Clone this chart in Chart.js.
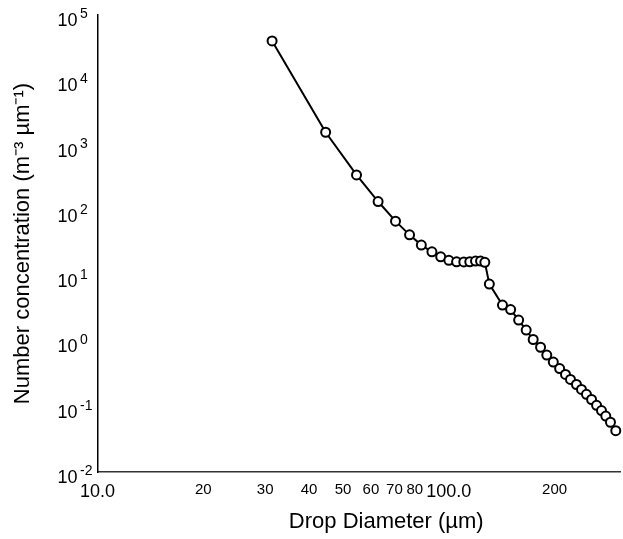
<!DOCTYPE html>
<html>
<head>
<meta charset="utf-8">
<title>Drop size distribution</title>
<script src="https://cdn.jsdelivr.net/npm/chart.js@4/dist/chart.umd.min.js"></script>
<style>
    html, body { margin: 0; padding: 0; background: #fff; }
    #wrap { width: 623px; height: 539px; }
</style>
</head>
<body>
<div id="wrap"><canvas id="dsdChart"></canvas></div>
<script>
// Drop diameter (um) and number concentration (m^-3 um^-1)
const diameters = [
    31.4, 44.6, 54.6, 62.9, 70.5, 77.3, 83.5, 89.5, 94.8, 100.0,
    105.2, 110.3, 114.7, 119.1, 123.1, 126.6, 130.4, 142.1, 149.9, 158.0,
    166.0, 173.8, 182.4, 190.0, 198.3, 206.7, 214.8, 221.9, 230.8, 238.5,
    246.4, 254.8, 263.3, 271.9, 279.7, 288.4, 298.6
];
const concentrations = [
    40000, 1600, 355, 139, 69.5, 42.9, 29.9, 23.6, 19.8, 17.5,
    16.6, 16.5, 16.6, 17.0, 17.0, 16.3, 7.55, 3.61, 3.08, 2.12,
    1.49, 1.07, 0.814, 0.618, 0.483, 0.384, 0.312, 0.262, 0.219, 0.184,
    0.155, 0.129, 0.105, 0.0874, 0.072, 0.0578, 0.043
];

// Axis ticks
const xTickValues = [10, 20, 30, 40, 50, 60, 70, 80, 100, 200];
const xTickLabels = ['10.0', '20', '30', '40', '50', '60', '70', '80', '100.0', '200'];
const yTickExponents = [-2, -1, 0, 1, 2, 3, 4, 5];

const FONT = '"Liberation Sans", Arial, sans-serif';

// The y labels are "10" from the axis, the raised exponent is added here
const exponentPlugin = {
    id: 'exponents',
    afterDraw(chart) {
        const yScale = chart.scales.y;
        const c = chart.ctx;
        c.save();
        c.font = '14px ' + FONT;
        c.fillStyle = '#000';
        c.textAlign = 'left';
        c.textBaseline = 'middle';
        yTickExponents.forEach(e => {
            const y = yScale.getPixelForValue(Math.pow(10, e));
            c.fillText(String(e), 80, y - 1);
        });
        c.restore();
    }
};

const ctx = document.getElementById('dsdChart').getContext('2d');
new Chart(ctx, {
    type: 'line',
    data: {
        datasets: [{
            data: diameters.map((d, i) => ({ x: d, y: concentrations[i] })),
            borderColor: '#000',
            borderWidth: 2,
            backgroundColor: '#fff',
            pointRadius: 4.5,
            pointBorderWidth: 2,
            pointBackgroundColor: '#fff',
            pointBorderColor: '#000',
            tension: 0,
            clip: false
        }]
    },
    plugins: [exponentPlugin],
    options: {
        responsive: true,
        maintainAspectRatio: false,
        animation: false,
        layout: {
            autoPadding: false,
            padding: { left: 0, right: 3, top: 15, bottom: 0 }
        },
        plugins: {
            legend: { display: false },
            tooltip: { enabled: false }
        },
        scales: {
            x: {
                type: 'logarithmic',
                min: 10,
                max: 307,
                afterBuildTicks: axis => {
                    axis.ticks = xTickValues.map(v => ({ value: v }));
                },
                afterFit: axis => {
                    axis.height = 67;
                    axis.paddingLeft = 0;
                    axis.paddingRight = 0;
                },
                border: { color: '#333', width: 1.5 },
                grid: { display: false, drawTicks: false },
                ticks: {
                    autoSkip: false,
                    maxRotation: 0,
                    padding: 9,
                    color: '#000',
                    font: c => ({
                        family: FONT,
                        size: (c.tick && (c.tick.value === 10 || c.tick.value === 100)) ? 18 : 15
                    }),
                    callback: function(value) {
                        const i = xTickValues.indexOf(value);
                        return i >= 0 ? xTickLabels[i] : '';
                    }
                },
                title: {
                    display: true,
                    // en/em spaces push the centred title a little right, as in the original
                    text: '\u2003\u2003\u2002Drop Diameter (\u00B5m)',
                    color: '#000',
                    font: { family: FONT, size: 22 },
                    padding: { top: 0, bottom: 4 }
                }
            },
            y: {
                type: 'logarithmic',
                min: 0.01,
                max: 100000,
                afterBuildTicks: axis => {
                    axis.ticks = yTickExponents.map(e => ({ value: Math.pow(10, e) }));
                },
                afterFit: axis => {
                    axis.width = 97.5;
                    axis.paddingTop = 0;
                    axis.paddingBottom = 0;
                },
                border: { color: '#000', width: 1.5 },
                grid: { display: false, drawTicks: false },
                ticks: {
                    autoSkip: false,
                    padding: 2,
                    labelOffset: 6,
                    color: '#000',
                    font: { family: FONT, size: 18 },
                    callback: function() {
                        return '10\u2002\u2002';
                    }
                },
                title: {
                    display: true,
                    text: 'Number concentration (m\u207B\u00B3 \u00B5m\u207B\u00B9)',
                    color: '#000',
                    font: { family: FONT, size: 22 },
                    padding: { top: 10, bottom: 0 }
                }
            }
        }
    }
});
</script>
</body>
</html>
